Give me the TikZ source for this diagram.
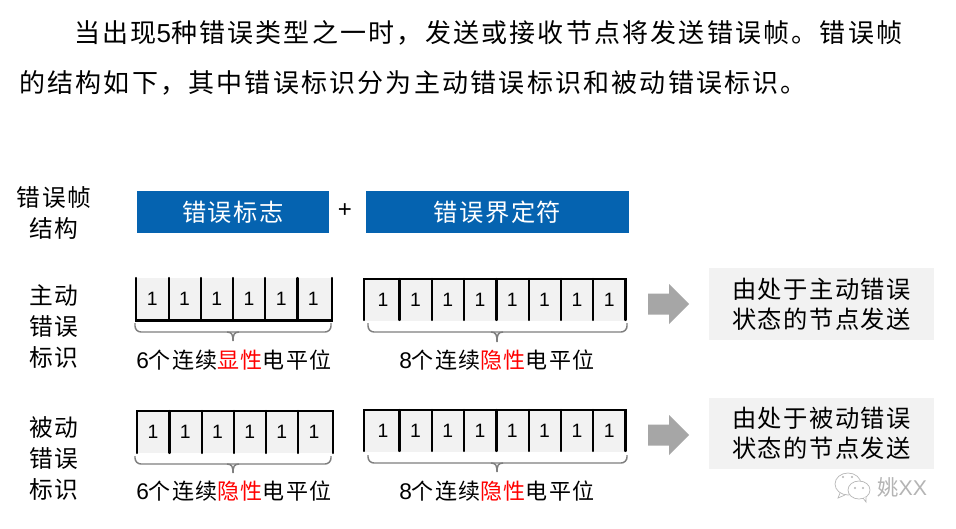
\documentclass[tikz,border=0pt]{standalone}
\usepackage{fontspec}
\setmainfont{Noto Sans CJK SC}
\newfontfamily\latinf{Liberation Sans}
\newfontfamily\widepara[LetterSpace=8.5]{Noto Sans CJK SC}
\newfontfamily\widemid[LetterSpace=6]{Noto Sans CJK SC}
\newfontfamily\widecap[LetterSpace=6]{Noto Sans CJK SC}
\definecolor{bluebar}{HTML}{0563B0}
\definecolor{cellgray}{HTML}{F2F2F2}
\definecolor{arrowgray}{HTML}{A6A6A6}
\definecolor{bracegray}{HTML}{7F7F7F}
\definecolor{marktext}{HTML}{B4B4B4}
\tikzset{
  x=0.75pt,y=-0.75pt,
  para/.style={inner sep=0pt,anchor=west,font=\widepara\fontsize{19.5}{24}\selectfont},
  sidelabel/.style={inner sep=0pt,align=center,font=\widemid\fontsize{17.8}{23.25}\selectfont},
  bar/.style={fill=bluebar,text=white,inner sep=0pt,font=\widemid\fontsize{18.2}{24}\selectfont},
  cell/.style={inner sep=0pt,anchor=north west,font=\latinf\fontsize{14.5}{16}\selectfont},
  backing/.style={fill=cellgray,inner sep=0pt,anchor=north west},
  note/.style={fill=cellgray,inner sep=0pt,align=center,font=\widemid\fontsize{18.2}{22.5}\selectfont},
  capt/.style={inner sep=0pt,anchor=west,font=\widecap\fontsize{16.5}{18}\selectfont},
  barline/.style={line width=1.6pt,black,line cap=round},
  bracepath/.style={draw=bracegray,line width=1.1pt,rounded corners=4.5pt}
}
% x0, ytop, count, width, height, prefix
\newcommand{\bitrow}[6]{%
  \foreach \i in {1,...,#3}{
    \node[cell,minimum width=#4*0.75pt,minimum height=#5*0.75pt] (#6\i) at ({#1+(\i-1)*#4},#2) {1};
  }
}
% left x, right x, centre x, ytop, yline, ytip
\newcommand{\curly}[6]{%
  \draw[bracepath] (#1,#4) -- (#1,#5) -- (#3,#5) -- (#2,#5) -- (#2,#4);
  \draw[draw=bracegray,line width=1.1pt] (#3-6,#5) .. controls (#3-1,#5) and (#3,#5+3) .. (#3,#6) .. controls (#3,#5+3) and (#3+1,#5) .. (#3+6,#5);
}
% x left, y centre
\newcommand{\blockarrow}[2]{%
  \fill[arrowgray] (#1,#2-10.5) -- (#1+21,#2-10.5) -- (#1+21,#2-20) -- (#1+41,#2) -- (#1+21,#2+20) -- (#1+21,#2+10.5) -- (#1,#2+10.5) -- cycle;
}
\begin{document}
\begin{tikzpicture}
\useasboundingbox (0,0) rectangle (956,528);
\fill[white] (0,0) rectangle (956,528);
\node[para] (p1) at (74,33) {当出现{\latinf 5}种错误类型之一时，发送或接收节点将发送错误帧。错误帧};
\node[para] (p2) at (19,83) {的结构如下，其中错误标识分为主动错误标识和被动错误标识。};

\node[sidelabel] (t0) at (54,213) {错误帧\\结构};
\node[sidelabel] (t1) at (54,327) {主动\\错误\\标识};
\node[sidelabel] (t2) at (54,458) {被动\\错误\\标识};

\node[bar,minimum width=144pt,minimum height=31.5pt] (b1) at (233,212) {错误标志};
\node[inner sep=0pt,font=\latinf\fontsize{18}{18}\selectfont] (plus) at (345,211) {+};
\node[bar,minimum width=197.25pt,minimum height=31.5pt] (b2) at (497.5,212) {错误界定符};

% row A: sides and bottom, no top
\node[backing,minimum width=146.6pt,minimum height=31.5pt] (abg) at (136,278) {};
\bitrow{136}{278}{6}{32.2}{42}{a}
\draw[barline] (abg.north west) -- (abg.south west) -- (abg.south east) -- (abg.north east);
\foreach \i in {1,...,5}{\draw[barline] (a\i.north east) -- (a\i.south east);}
% row B: sides and top, no bottom
\node[backing,minimum width=195.75pt,minimum height=31.5pt] (bbg) at (364,279) {};
\bitrow{366.7}{279}{8}{32.3}{42}{b}
\draw[barline] ([yshift=1.1pt]bbg.south west) -- (bbg.north west) -- (bbg.north east) -- ([yshift=1.1pt]bbg.south east);
\foreach \i in {1,...,7}{\draw[barline] (b\i.north east) -- ([yshift=1.1pt]b\i.south east);}
% row C
\node[backing,minimum width=146.6pt,minimum height=31.5pt] (cbg) at (136.7,411) {};
\bitrow{136.7}{411}{6}{32.2}{42}{c}
\draw[barline] ([yshift=0.4pt]cbg.south west) -- (cbg.north west) -- (cbg.north east) -- ([yshift=0.4pt]cbg.south east);
\foreach \i in {1,...,5}{\draw[barline] (c\i.north east) -- ([yshift=0.4pt]c\i.south east);}
% row D
\node[backing,minimum width=195.75pt,minimum height=31.5pt] (dbg) at (364,410) {};
\bitrow{366.7}{410}{8}{32.3}{42}{d}
\draw[barline] ([yshift=1.1pt]dbg.south west) -- (dbg.north west) -- (dbg.north east) -- ([yshift=1.1pt]dbg.south east);
\foreach \i in {1,...,7}{\draw[barline] (d\i.north east) -- ([yshift=1.1pt]d\i.south east);}

\curly{135}{331}{233}{323}{332}{341}
\curly{368}{627}{497}{323}{332}{342}
\curly{135}{331}{233}{456}{464}{473}
\curly{368}{627}{497}{455}{463}{472}

\node[capt] (c1t) at (136,360) {{\latinf\fontsize{17}{18}\selectfont 6}个连续\textcolor{red}{显性}电平位};
\node[capt] (c2t) at (399,360) {{\latinf\fontsize{17}{18}\selectfont 8}个连续\textcolor{red}{隐性}电平位};
\node[capt] (c3t) at (136,491) {{\latinf\fontsize{17}{18}\selectfont 6}个连续\textcolor{red}{隐性}电平位};
\node[capt] (c4t) at (399,491) {{\latinf\fontsize{17}{18}\selectfont 8}个连续\textcolor{red}{隐性}电平位};

\blockarrow{648}{304}
\blockarrow{648}{435}

\node[note,minimum width=168.75pt,minimum height=54pt] (n1) at (821.5,304) {由处于主动错误\\状态的节点发送};
\node[note,minimum width=168.75pt,minimum height=53.25pt] (n2) at (821.5,433.5) {由处于被动错误\\状态的节点发送};

% watermark
\draw[marktext,line width=0.5pt,fill=white] (848,484) ellipse [x radius=13,y radius=11];
\draw[marktext,line width=0.5pt] (840,493) -- (838,498) -- (845,495);
\draw[marktext,line width=0.5pt,fill=white] (859,490) ellipse [x radius=11,y radius=9];
\draw[marktext,line width=0.5pt,fill=white] (863,498) -- (866,502) -- (866,497);
\fill[marktext] (843,477) circle (1.2) (852,477) circle (1.2) (855,488) circle (1.1) (863,488) circle (1.1);
\node[inner sep=0pt,anchor=west,text=marktext,font=\fontsize{16}{16}\selectfont] (wm) at (877,487) {姚{\latinf XX}};
\end{tikzpicture}
\end{document}
